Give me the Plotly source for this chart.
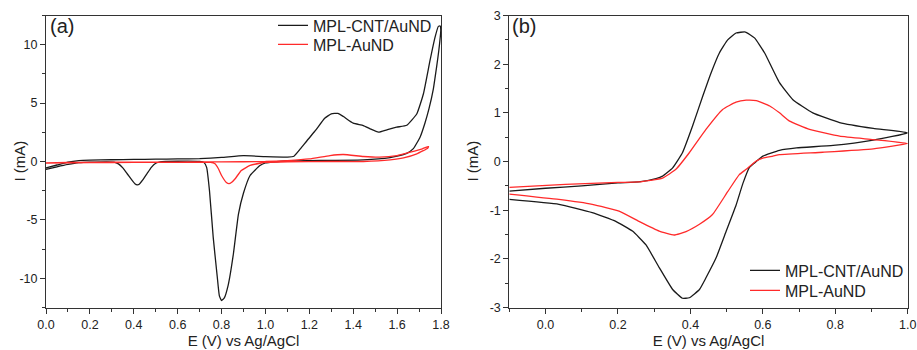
import plotly.graph_objects as go

# ---------------- Panel (a) data ----------------
a_cnt_E = [0.00, 0.05, 0.10, 0.15, 0.20, 0.30, 0.40, 0.50, 0.60, 0.70, 0.80, 0.90, 1.00, 1.10, 1.13,
           1.16, 1.19, 1.23, 1.27, 1.30, 1.33, 1.355, 1.40, 1.446, 1.477, 1.515, 1.553, 1.598, 1.644,
           1.69, 1.72, 1.75, 1.773, 1.788, 1.796,
           1.799, 1.790, 1.780, 1.765, 1.745, 1.727, 1.705, 1.674, 1.644, 1.60, 1.568, 1.446, 1.30, 1.20,
           1.10, 1.05, 1.00, 0.975, 0.93, 0.90, 0.877, 0.854, 0.83, 0.812, 0.80, 0.79, 0.78, 0.762,
           0.745, 0.732, 0.72, 0.70, 0.60, 0.52, 0.50, 0.48, 0.46, 0.44, 0.425, 0.416, 0.405, 0.39,
           0.37, 0.35, 0.33, 0.31, 0.20, 0.15, 0.10, 0.05, 0.00]
a_cnt_I = [-0.54, -0.30, -0.05, 0.08, 0.12, 0.15, 0.18, 0.20, 0.22, 0.25, 0.35, 0.50, 0.42, 0.38, 0.45,
           1.10, 1.80, 2.70, 3.70, 4.08, 4.12, 3.85, 3.28, 3.08, 2.80, 2.51, 2.71, 2.94, 3.10,
           4.09, 5.80, 8.65, 10.65, 11.57, 11.60,
           11.30, 9.50, 8.10, 6.20, 4.50, 3.30, 2.10, 1.10, 0.70, 0.45, 0.33, 0.14, 0.10, 0.08,
           0.05, -0.02, -0.12, -0.35, -1.20, -2.70, -4.50, -7.90, -10.60, -11.70, -11.90, -11.50, -9.80, -6.50,
           -2.50, -0.50, -0.08, 0.00, 0.02, -0.03, -0.15, -0.50, -1.05, -1.60, -1.95, -2.00, -1.90, -1.55,
           -1.05, -0.55, -0.20, -0.05, -0.05, -0.10, -0.25, -0.45, -0.68]

a_au_E = [0.00, 0.10, 0.30, 0.50, 0.70, 0.90, 1.00, 1.10, 1.20, 1.294, 1.355, 1.446, 1.52, 1.60, 1.66,
          1.715, 1.743,
          1.740, 1.690, 1.629, 1.568, 1.446, 1.294, 1.10, 1.00, 0.975, 0.93, 0.89, 0.861, 0.845, 0.834,
          0.822, 0.80, 0.785, 0.77, 0.75, 0.60, 0.40, 0.20, 0.00]
a_au_I = [-0.12, -0.08, -0.06, -0.05, -0.04, -0.02, 0.00, 0.08, 0.22, 0.51, 0.60, 0.43, 0.37, 0.51, 0.80,
          1.09, 1.29,
          1.15, 0.66, 0.31, 0.14, 0.00, 0.00, -0.02, -0.08, -0.15, -0.34, -0.77, -1.50, -1.80, -1.90,
          -1.80, -1.20, -0.60, -0.20, -0.08, -0.07, -0.08, -0.10, -0.14]

# ---------------- Panel (b) data ----------------
b_cnt_E = [-0.10, 0.00, 0.10, 0.20, 0.257, 0.305, 0.323, 0.351, 0.378, 0.406, 0.434, 0.457, 0.48, 0.503,
           0.526, 0.552, 0.577, 0.605, 0.646, 0.683, 0.738, 0.812, 0.905, 1.00,
           0.905, 0.794, 0.693, 0.646, 0.60, 0.582, 0.563, 0.545, 0.526, 0.499, 0.471, 0.443, 0.425,
           0.397, 0.378, 0.351, 0.314, 0.277, 0.24, 0.194, 0.129, 0.037, -0.10]
b_cnt_I = [-0.61, -0.55, -0.50, -0.44, -0.42, -0.35, -0.30, -0.13, 0.18, 0.73, 1.34, 1.82, 2.23, 2.50,
           2.64, 2.66, 2.54, 2.23, 1.62, 1.27, 1.00, 0.80, 0.68, 0.59,
           0.44, 0.33, 0.28, 0.23, 0.11, 0.00, -0.12, -0.45, -0.90, -1.43, -1.98, -2.39, -2.63,
           -2.80, -2.81, -2.63, -2.18, -1.71, -1.43, -1.23, -1.05, -0.88, -0.78]

b_au_E = [-0.10, 0.055, 0.20, 0.257, 0.323, 0.36, 0.397, 0.443, 0.489, 0.526, 0.554, 0.582, 0.619,
          0.646, 0.674, 0.729, 0.812, 0.905, 1.00,
          0.905, 0.766, 0.646, 0.628, 0.60, 0.582, 0.554, 0.535, 0.503, 0.461, 0.425, 0.388, 0.355,
          0.314, 0.258, 0.203, 0.129, 0.037, -0.10]
b_au_I = [-0.53, -0.47, -0.43, -0.42, -0.34, -0.16, 0.18, 0.66, 1.07, 1.22, 1.26, 1.25, 1.14,
          1.00, 0.83, 0.66, 0.52, 0.45, 0.37,
          0.26, 0.19, 0.14, 0.11, 0.07, 0.01, -0.16, -0.27, -0.62, -1.09, -1.29, -1.44, -1.51,
          -1.43, -1.23, -1.02, -0.88, -0.78, -0.67]

series_names = ["MPL-CNT/AuND", "MPL-AuND"]
x_label = "E (V) vs Ag/AgCl"
y_label = "I (mA)"

a_xticks = [0.0, 0.2, 0.4, 0.6, 0.8, 1.0, 1.2, 1.4, 1.6, 1.8]
a_xtext = ["0.0", "0.2", "0.4", "0.6", "0.8", "1.0", "1.2", "1.4", "1.6", "1.8"]
a_yticks = [-10, -5, 0, 5, 10]
a_ytext = ["-10", "-5", "0", "5", "10"]
b_xticks = [0.0, 0.2, 0.4, 0.6, 0.8, 1.0]
b_xtext = ["0.0", "0.2", "0.4", "0.6", "0.8", "1.0"]
b_yticks = [-3, -2, -1, 0, 1, 2, 3]
b_ytext = ["-3", "-2", "-1", "0", "1", "2", "3"]

BLACK = "#1a1a1a"
RED = "#ff2a2a"
FONT = "Arial, Liberation Sans, sans-serif"
TXT = "#222222"
W, H = 917, 350

fig = go.Figure()
line_shape = dict(shape="spline", smoothing=0.4, width=1.3)

fig.add_trace(go.Scatter(x=a_cnt_E, y=a_cnt_I, mode="lines", name=series_names[0],
                         line=dict(color=BLACK, **line_shape), xaxis="x", yaxis="y", legend="legend"))
fig.add_trace(go.Scatter(x=a_au_E, y=a_au_I, mode="lines", name=series_names[1],
                         line=dict(color=RED, **line_shape), xaxis="x", yaxis="y", legend="legend3"))
fig.add_trace(go.Scatter(x=b_cnt_E, y=b_cnt_I, mode="lines", name=series_names[0],
                         line=dict(color=BLACK, **line_shape), xaxis="x2", yaxis="y2", legend="legend2"))
fig.add_trace(go.Scatter(x=b_au_E, y=b_au_I, mode="lines", name=series_names[1],
                         line=dict(color=RED, **line_shape), xaxis="x2", yaxis="y2", legend="legend4"))

axis_common = dict(showline=True, linecolor="#333333", linewidth=1, mirror=True,
                   ticks="outside", ticklen=5, tickwidth=1, tickcolor="#333333",
                   showgrid=False, zeroline=False, automargin=False, tickmode="array",
                   tickfont=dict(family=FONT, size=12.5, color=TXT),
                   title_font=dict(family=FONT, size=15, color=TXT))
minor_common = dict(ticks="outside", ticklen=3, tickwidth=1, tickcolor="#333333", showgrid=False)

Y_DOM = [1 - 307.5 / H, 1 - 15.5 / H]


def legend_at(x_px, top_px):
    return dict(x=x_px / W, y=1 - top_px / H, xanchor="left", yanchor="top",
                bgcolor="rgba(0,0,0,0)", borderwidth=0,
                font=dict(family=FONT, size=16, color=TXT), tracegroupgap=0)


fig.update_layout(
    template="none",
    width=W, height=H,
    margin=dict(l=0, r=0, t=0, b=0, pad=0),
    paper_bgcolor="white", plot_bgcolor="white",
    font=dict(family=FONT, color=TXT),
    xaxis=dict(domain=[46 / W, 441 / W], range=[0, 1.8], tickvals=a_xticks, ticktext=a_xtext,
               minor=dict(dtick=0.1, tick0=0, **minor_common),
               anchor="y", title=dict(text=x_label, standoff=4), **axis_common),
    yaxis=dict(domain=Y_DOM, range=[-12.5, 12.5], tickvals=a_yticks, ticktext=a_ytext,
               minor=dict(dtick=2.5, tick0=0, **minor_common),
               anchor="x", **axis_common),
    xaxis2=dict(domain=[509.3 / W, 907.7 / W], range=[-0.1, 1.0], tickvals=b_xticks, ticktext=b_xtext,
                minor=dict(dtick=0.1, tick0=0, **minor_common),
                anchor="y2", title=dict(text=x_label, standoff=4), **axis_common),
    yaxis2=dict(domain=Y_DOM, range=[-3, 3], tickvals=b_yticks, ticktext=b_ytext,
                minor=dict(dtick=0.5, tick0=0, **minor_common),
                anchor="x2", **axis_common),
    legend=legend_at(273, 8.5),
    legend3=legend_at(273, 27.5),
    legend2=legend_at(745, 253.5),
    legend4=legend_at(745, 273.5),
    showlegend=True,
)

# y-axis titles
fig.add_annotation(text=y_label, xref="paper", yref="paper", x=19 / W, y=1 - 161.5 / H,
                   xanchor="center", yanchor="middle", textangle=-90, showarrow=False,
                   font=dict(family=FONT, size=15, color=TXT))
fig.add_annotation(text=y_label, xref="paper", yref="paper", x=472 / W, y=1 - 161.5 / H,
                   xanchor="center", yanchor="middle", textangle=-90, showarrow=False,
                   font=dict(family=FONT, size=15, color=TXT))
# panel labels
fig.add_annotation(text="(a)", xref="paper", yref="paper", x=48 / W, y=1 - 13 / H,
                   xanchor="left", yanchor="top", showarrow=False,
                   font=dict(family=FONT, size=20, color=TXT))
fig.add_annotation(text="(b)", xref="paper", yref="paper", x=510 / W, y=1 - 13 / H,
                   xanchor="left", yanchor="top", showarrow=False,
                   font=dict(family=FONT, size=20, color=TXT))

fig.write_html("out.html", config={"displayModeBar": False},
               post_script="document.body.style.margin='0px';")
